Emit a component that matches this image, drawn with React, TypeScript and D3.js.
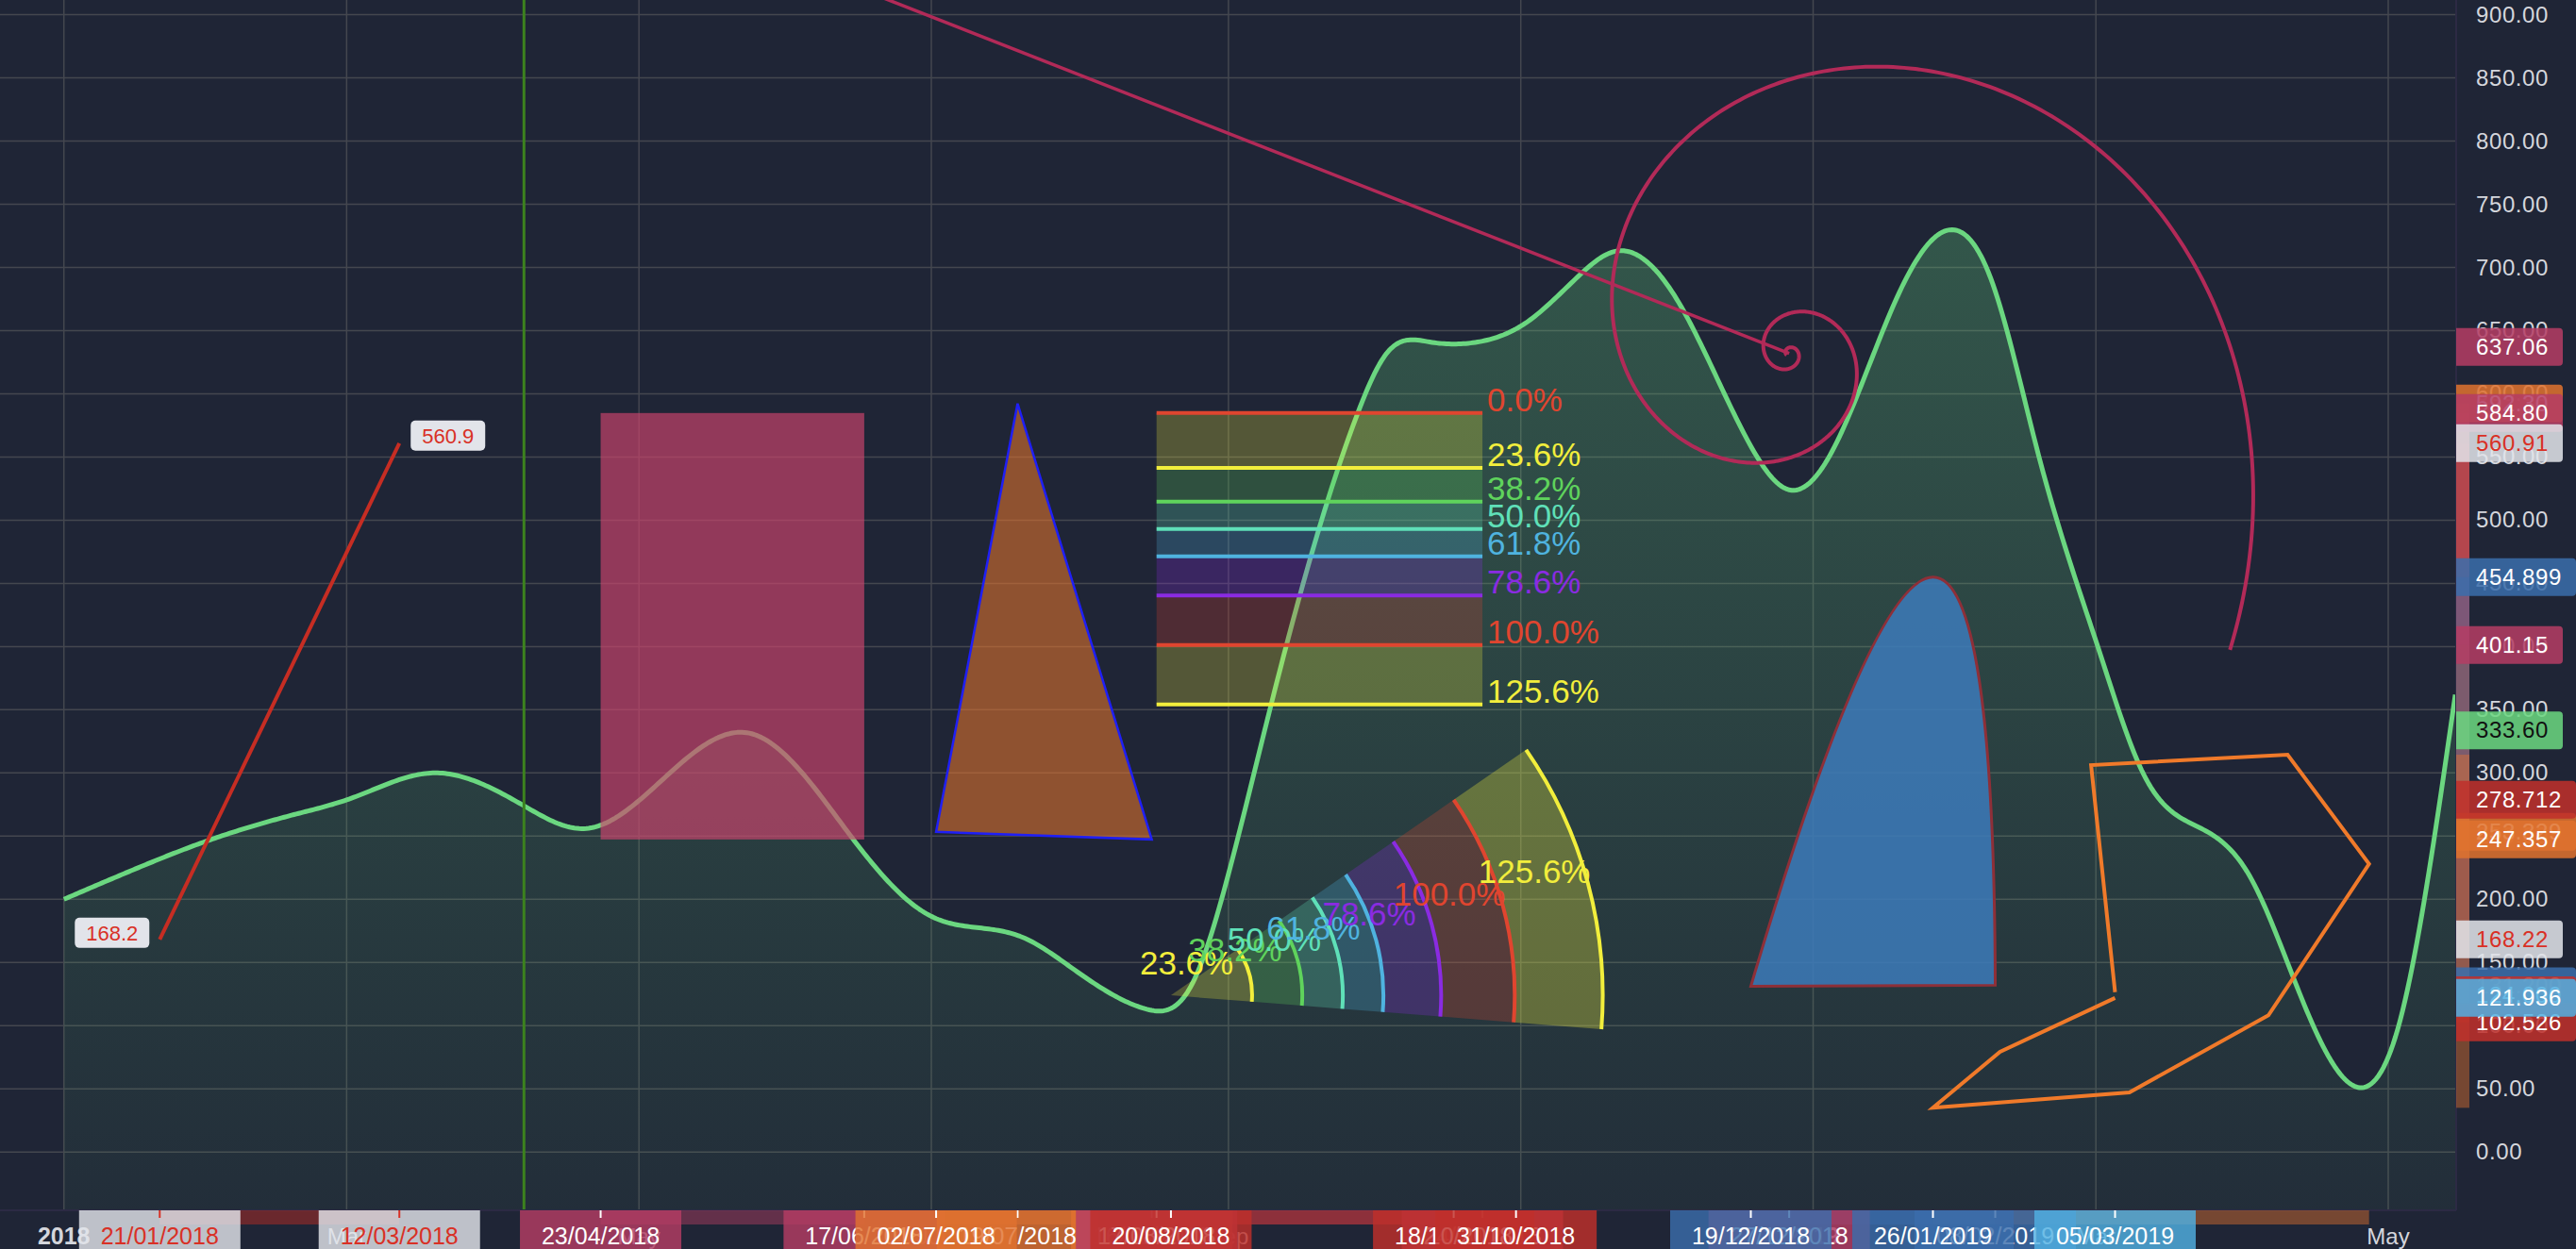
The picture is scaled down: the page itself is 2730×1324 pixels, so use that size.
import React from 'react';
import * as d3 from 'd3';

const WIDTH = 2730;
const HEIGHT = 1324;
const PLOT_RIGHT = 2603;
const PLOT_BOTTOM = 1283;
const BG = '#1f2536';
const FONT = '"Liberation Sans", Arial, sans-serif';

// ---------- scales domains ----------
const timeDomain = ['2018-01-01', '2019-05-01'];
const priceDomain = [0, 900];

// ---------- area series ----------
const seriesDates = [
  '2018-01-01', '2018-01-14', '2018-01-30', '2018-02-18', '2018-03-02', '2018-03-19', '2018-04-07',
  '2018-04-20', '2018-05-24', '2018-06-15', '2018-07-01', '2018-07-13', '2018-07-20', '2018-07-30',
  '2018-08-15', '2018-08-24', '2018-09-01', '2018-09-10', '2018-09-28', '2018-10-04', '2018-10-13',
  '2018-10-23', '2018-11-02', '2018-11-13', '2018-11-21', '2018-12-04', '2018-12-19', '2018-12-27',
  '2019-01-04', '2019-01-18', '2019-01-28', '2019-02-07', '2019-02-17', '2019-03-02', '2019-03-11',
  '2019-03-23', '2019-04-02', '2019-04-11', '2019-04-24', '2019-05-03', '2019-05-15',
];
const seriesValues = [
  200, 221, 245, 267, 280, 300, 274,
  256, 331.5, 246, 186.5, 176.5, 170, 146.5,
  113, 130, 220, 355.5, 585, 632, 641,
  641, 656, 693, 713, 672, 558.6, 524,
  548, 672, 728, 692, 552, 393, 298.6,
  256, 219, 140, 52, 97.5, 362,
];
const lastPrice = 333.6;

// ---------- drawings ----------
const trendDates = ['2018-01-21', '2018-03-12'];
const trendPrices = [168.22, 560.91];
const vlineDate = '2018-04-07';
const rectDates = ['2018-04-23', '2018-06-17'];
const rectPrices = [584.8, 247.357];
const triDates = ['2018-07-02', '2018-07-19', '2018-08-16'];
const triPrices = [253.329, 592.3, 247.357];
const fibRetDates = ['2018-08-17', '2018-10-24'];
const fibRetPrices = [401.15, 584.8]; // 100% , 0%
const fibLevels = [0, 0.236, 0.382, 0.5, 0.618, 0.786, 1, 1.256];
const fibColors = ['#e0452f', '#f2ee3c', '#5fd35c', '#5fe0b8', '#4fb3df', '#8a2be2', '#e0452f', '#f2ee3c'];
const wedgeDates = ['2018-08-20', '2018-10-18', '2018-10-31'];
const wedgePrices = [124, 278.712, 102.526];
const wedgeLevels = [0.236, 0.382, 0.5, 0.618, 0.786, 1, 1.256];
const wedgeColors = ['#f2ee3c', '#5fd35c', '#5fe0b8', '#4fb3df', '#8a2be2', '#e0452f', '#f2ee3c'];
const spiralDates = ['2018-06-01', '2018-12-27'];
const spiralPrices = [943, 632];
const curveDates = ['2018-12-19', '2019-01-26', '2019-02-08'];
const curvePrices = [131.2, 454.899, 132.0];
const polyDates = ['2019-03-05', '2019-02-28', '2019-04-10', '2019-04-27', '2019-04-06', '2019-03-08', '2019-01-26', '2019-02-09', '2019-03-05'];
const polyPrices = [126.5, 306.2, 314.4, 227.9, 108.2, 47.2, 35.0, 79.3, 121.936];

// ---------- colours ----------
const C_TREND = '#c62d23';
const C_PINK = '#b53d64';
const C_ORANGE = '#e0722f';
const C_RED = '#c0302b';
const C_BLUE = '#3a6dab';
const C_LBLUE = '#50b0e2';
const C_GREEN = '#6bd780';
const C_WHITE = '#e2e4ea';
const C_REDTEXT = '#d93025';

// ---------- axis label lists ----------
const priceLabelValues = [592.3, 253.329, 247.357, 584.8, 401.15, 637.06, 168.22, 560.91, 454.899, 131.2, 278.712, 124, 102.526, 121.936, lastPrice];
const priceLabelTexts = ['592.30', '253.329', '247.357', '584.80', '401.15', '637.06', '168.22', '560.91', '454.899', '131.200', '278.712', '124.000', '102.526', '121.936', '333.60'];
const priceLabelFills = [C_ORANGE, C_ORANGE, C_ORANGE, C_PINK, C_PINK, C_PINK, C_WHITE, C_WHITE, C_BLUE, C_BLUE, C_RED, C_RED, C_RED, C_LBLUE, C_GREEN];
const priceLabelInk = ['#fff', '#fff', '#fff', '#fff', '#fff', '#fff', C_REDTEXT, C_REDTEXT, '#fff', '#fff', '#fff', '#fff', '#fff', '#fff', '#111'];

const timeLabelDates = [
  '2018-01-21', '2018-03-12', '2018-04-23', '2018-06-17', '2018-08-16', '2018-07-19', '2018-07-02',
  '2018-08-17', '2018-10-24', '2018-08-20', '2018-10-18', '2018-10-31', '2018-12-27',
  '2018-12-19', '2019-02-08', '2019-01-26', '2019-03-05',
];
const timeLabelFills = [
  C_WHITE, C_WHITE, C_PINK, C_PINK, C_ORANGE, C_ORANGE, C_ORANGE,
  C_PINK, C_PINK, C_RED, C_RED, C_RED, C_PINK,
  C_BLUE, C_BLUE, C_BLUE, C_LBLUE,
];

// price / time ranges for the axis highlight strips
const rangeColors = [C_TREND, C_PINK, C_ORANGE, C_PINK, C_RED, C_BLUE, C_ORANGE];
const rangeDateSets = [trendDates, rectDates, triDates, fibRetDates, wedgeDates, curveDates, polyDates];
const rangePriceSets = [trendPrices, rectPrices, triPrices, fibRetPrices, wedgePrices, curvePrices, polyPrices];

const parse = d3.utcParse('%Y-%m-%d');
const x = d3.scaleUtc().domain(timeDomain.map((d) => parse(d) as Date)).range([67.7, 2531]);
const y = d3.scaleLinear().domain(priceDomain).range([1221.2, 15.6]);
const X = (s: string) => x(parse(s) as Date);
const fmtDate = d3.utcFormat('%d/%m/%Y');
const fmt1 = d3.format('.1f');
const DAY = 86400000;

// natural cubic spline over time (used only to draw the smooth "curved" series line)
function naturalSpline(xs: number[], ys: number[]) {
  const n = xs.length;
  const h: number[] = [];
  for (let i = 0; i < n - 1; i++) h.push(xs[i + 1] - xs[i]);
  const M = new Array(n).fill(0);
  const a = new Array(n).fill(0), b = new Array(n).fill(1), c = new Array(n).fill(0), r = new Array(n).fill(0);
  for (let i = 1; i < n - 1; i++) {
    a[i] = h[i - 1];
    b[i] = 2 * (h[i - 1] + h[i]);
    c[i] = h[i];
    r[i] = 6 * ((ys[i + 1] - ys[i]) / h[i] - (ys[i] - ys[i - 1]) / h[i - 1]);
  }
  for (let i = 1; i < n; i++) {
    const m = a[i] / b[i - 1];
    b[i] -= m * c[i - 1];
    r[i] -= m * r[i - 1];
  }
  M[n - 1] = r[n - 1] / b[n - 1];
  for (let i = n - 2; i >= 0; i--) M[i] = (r[i] - c[i] * M[i + 1]) / b[i];
  return (xv: number) => {
    let i = d3.bisectRight(xs, xv) - 1;
    i = Math.max(0, Math.min(n - 2, i));
    const hi = h[i];
    const A = xs[i + 1] - xv, B = xv - xs[i];
    return (M[i] * A * A * A + M[i + 1] * B * B * B) / (6 * hi) + (ys[i] / hi - (M[i] * hi) / 6) * A + (ys[i + 1] / hi - (M[i + 1] * hi) / 6) * B;
  };
}

function rightRounded(x0: number, y0: number, w: number, h: number, r: number) {
  const p = d3.path();
  p.moveTo(x0, y0);
  p.lineTo(x0 + w - r, y0);
  p.arcTo(x0 + w, y0, x0 + w, y0 + r, r);
  p.lineTo(x0 + w, y0 + h - r);
  p.arcTo(x0 + w, y0 + h, x0 + w - r, y0 + h, r);
  p.lineTo(x0, y0 + h);
  p.closePath();
  return p.toString();
}

export default function App() {
  const t0ms = +(parse(seriesDates[0]) as Date);
  const days = seriesDates.map((d) => (+(parse(d) as Date) - t0ms) / DAY);
  const spline = naturalSpline(days, seriesValues);
  const lastDay = days[days.length - 1];
  const smooth = d3.range(0, lastDay + 0.01, 0.5).map((dd) => ({ t: new Date(t0ms + dd * DAY), v: spline(dd) }));
  const lineGen = d3.line<any>().x((d) => x(d.t)).y((d) => y(d.v));
  const areaGen = d3.area<any>().x((d) => x(d.t)).y0(PLOT_BOTTOM).y1((d) => y(d.v));

  const yTicks = y.ticks(20);
  const xTicks = x.ticks(d3.utcMonth.every(2) as any);

  // trend
  const t0 = [X(trendDates[0]), y(trendPrices[0])];
  const t1 = [X(trendDates[1]), y(trendPrices[1])];

  // rect
  const rx0 = X(rectDates[0]), rx1 = X(rectDates[1]);
  const ry0 = y(rectPrices[0]), ry1 = y(rectPrices[1]);

  // triangle
  const triPts = triDates.map((d, i) => [X(d), y(triPrices[i])]);

  // fib retracement
  const fx0 = X(fibRetDates[0]), fx1 = X(fibRetDates[1]);
  const p100 = fibRetPrices[0], p0 = fibRetPrices[1];
  const fibY = fibLevels.map((l) => y(p0 + (p100 - p0) * l));

  // fib wedge
  const ax = X(wedgeDates[0]), ay = y(wedgePrices[0]);
  const bx = X(wedgeDates[1]), by = y(wedgePrices[1]);
  const cx = X(wedgeDates[2]), cy = y(wedgePrices[2]);
  const R = Math.hypot(bx - ax, by - ay);
  const thU = Math.atan2(by - ay, bx - ax);
  const thL = Math.atan2(cy - ay, cx - ax);
  const thMid = (thU + thL) / 2;
  const wedgeR = wedgeLevels.map((l) => l * R);

  // spiral
  const s1x = X(spiralDates[0]), s1y = y(spiralPrices[0]);
  const s2x = X(spiralDates[1]), s2y = y(spiralPrices[1]);
  const sd = Math.hypot(s1x - s2x, s1y - s2y);
  let alpha = (Math.atan2(s1y - s2y, s1x - s2x) * 180) / Math.PI;
  if (alpha < 0) alpha += 360;
  const phi = (1 + Math.sqrt(5)) / 2;
  const th0 = alpha + 324.5;
  const spiralPts: [number, number][] = [];
  for (let th = th0 - 1100; th <= alpha + 193.3; th += 1) {
    const r = sd * Math.pow(phi, (th - th0) / 90);
    const a = (th * Math.PI) / 180;
    spiralPts.push([s2x + r * Math.cos(a), s2y + r * Math.sin(a)]);
  }
  const spiralPath = d3.line()(spiralPts) as string;

  // blue curve
  const cp = curveDates.map((d, i) => [X(d), y(curvePrices[i])]);
  const ctrl = [2 * cp[1][0] - (cp[0][0] + cp[2][0]) / 2, 2 * cp[1][1] - (cp[0][1] + cp[2][1]) / 2];
  const bp = d3.path();
  bp.moveTo(cp[0][0], cp[0][1]);
  bp.quadraticCurveTo(ctrl[0], ctrl[1], cp[2][0], cp[2][1]);
  bp.closePath();

  // polyline
  const polyPts = polyDates.map((d, i) => [X(d), y(polyPrices[i])] as [number, number]);

  return (
    <svg width={WIDTH} height={HEIGHT} style={{ position: 'absolute', left: 0, top: 0, display: 'block' }} fontFamily={FONT}>
      <defs>
        <clipPath id="plot">
          <rect x={0} y={0} width={PLOT_RIGHT} height={PLOT_BOTTOM} />
        </clipPath>
        <linearGradient id="areaGrad" gradientUnits="userSpaceOnUse" x1={0} y1={0} x2={0} y2={PLOT_BOTTOM}>
          <stop offset="0" stopColor="#64d27d" stopOpacity={0.34} />
          <stop offset="1" stopColor="#64d27d" stopOpacity={0.05} />
        </linearGradient>
      </defs>
      <rect x={0} y={0} width={WIDTH} height={HEIGHT} fill={BG} />

      <g clipPath="url(#plot)">
        {/* grid */}
        {yTicks.map((v) => (
          <line key={'gy' + v} x1={0} x2={PLOT_RIGHT} y1={y(v)} y2={y(v)} stroke="#44474f" strokeWidth={1.5} />
        ))}
        {xTicks.map((t) => (
          <line key={'gx' + +t} x1={x(t)} x2={x(t)} y1={0} y2={PLOT_BOTTOM} stroke="#44474f" strokeWidth={1.5} />
        ))}

        {/* area series */}
        <path d={areaGen(smooth) as string} fill="url(#areaGrad)" />
        <path d={lineGen(smooth) as string} fill="none" stroke={C_GREEN} strokeWidth={5} strokeLinejoin="round" />

        {/* trend line */}
        <line x1={t0[0]} y1={t0[1]} x2={t1[0]} y2={t1[1]} stroke={C_TREND} strokeWidth={4} />

        {/* vertical line */}
        <line x1={X(vlineDate)} x2={X(vlineDate)} y1={0} y2={PLOT_BOTTOM} stroke="#3c821e" strokeWidth={3} />

        {/* rectangle */}
        <rect x={rx0} y={Math.min(ry0, ry1)} width={rx1 - rx0} height={Math.abs(ry1 - ry0)} fill="rgba(207,69,110,0.66)" />

        {/* triangle */}
        <polygon points={triPts.map((p) => p.join(',')).join(' ')} fill="rgba(232,118,44,0.56)" stroke="#1f1ff5" strokeWidth={2.5} />

        {/* fib retracement */}
        {fibLevels.slice(1).map((l, i) => (
          <rect key={'fb' + l} x={fx0} y={fibY[i]} width={fx1 - fx0} height={fibY[i + 1] - fibY[i]} fill={fibColors[i + 1]} fillOpacity={0.25} />
        ))}
        {fibLevels.map((l, i) => (
          <line key={'fl' + l} x1={fx0} x2={fx1} y1={fibY[i]} y2={fibY[i]} stroke={fibColors[i]} strokeWidth={4} />
        ))}
        {fibLevels.map((l, i) => (
          <text key={'ft' + l} x={fx1 + 5} y={fibY[i] - 2} fill={fibColors[i]} fontSize={35}>
            {(l * 100).toFixed(1) + '%'}
          </text>
        ))}

        {/* fib wedge */}
        {wedgeR.map((r, i) => {
          const a = d3.arc()({
            innerRadius: i === 0 ? 0 : wedgeR[i - 1],
            outerRadius: r,
            startAngle: thU + Math.PI / 2,
            endAngle: thL + Math.PI / 2,
          } as any) as string;
          return <path key={'wb' + i} d={a} transform={`translate(${ax},${ay})`} fill={wedgeColors[i]} fillOpacity={i === wedgeR.length - 1 ? 0.3 : 0.26} />;
        })}
        {wedgeR.map((r, i) => {
          const p = d3.path();
          p.arc(ax, ay, r, thU, thL);
          return <path key={'wa' + i} d={p.toString()} fill="none" stroke={wedgeColors[i]} strokeWidth={4} />;
        })}
        {wedgeR.map((r, i) => (
          <text key={'wt' + i} x={ax + r * Math.cos(thMid) - 116} y={ay + r * Math.sin(thMid)} textAnchor="start" fill={wedgeColors[i]} fontSize={35}>
            {(wedgeLevels[i] * 100).toFixed(1) + '%'}
          </text>
        ))}

        {/* fib spiral */}
        <line x1={s1x} y1={s1y} x2={s2x} y2={s2y} stroke="#b22a58" strokeWidth={3.5} />
        <path d={spiralPath} fill="none" stroke="#b22a58" strokeWidth={4} />

        {/* blue curve */}
        <path d={bp.toString()} fill="rgba(60,122,185,0.86)" stroke="#8e2f38" strokeWidth={3} />

        {/* polyline */}
        <path d={d3.line()(polyPts) as string} fill="none" stroke="#f07a2a" strokeWidth={4} strokeLinejoin="miter" />

        {/* trend labels */}
        <rect x={t0[0] - 11 - 79} y={t0[1] - 7 - 16} width={79} height={32} rx={5} fill={C_WHITE} />
        <text x={t0[0] - 11 - 39.5} y={t0[1] - 7 + 8} textAnchor="middle" fill={C_REDTEXT} fontSize={22}>
          {fmt1(trendPrices[0])}
        </text>
        <rect x={t1[0] + 12} y={t1[1] - 8 - 16} width={79} height={32} rx={5} fill={C_WHITE} />
        <text x={t1[0] + 12 + 39.5} y={t1[1] - 8 + 8} textAnchor="middle" fill={C_REDTEXT} fontSize={22}>
          {fmt1(trendPrices[1])}
        </text>
      </g>

      {/* separators */}
      <line x1={0} x2={PLOT_RIGHT} y1={PLOT_BOTTOM} y2={PLOT_BOTTOM} stroke="#2c2a44" strokeWidth={2} />
      <line x1={PLOT_RIGHT} x2={PLOT_RIGHT} y1={0} y2={PLOT_BOTTOM} stroke="#2c2a44" strokeWidth={2} />

      {/* price axis ticks */}
      {yTicks.map((v) => (
        <text key={'py' + v} x={2624} y={y(v) + 8} fill="#d4d6dc" fontSize={24} letterSpacing={0.6}>
          {v.toFixed(2)}
        </text>
      ))}

      {/* price axis range strips */}
      {rangePriceSets.map((ps, i) => {
        const y0 = y(d3.max(ps) as number), y1 = y(d3.min(ps) as number);
        return <rect key={'pr' + i} x={PLOT_RIGHT} y={y0} width={14} height={y1 - y0} fill={rangeColors[i]} fillOpacity={0.45} />;
      })}

      {/* price axis labels */}
      {priceLabelValues.map((v, i) => {
        const yc = y(v);
        const w = priceLabelTexts[i].length <= 6 ? 113 : 127;
        return (
          <g key={'pl' + i}>
            <path d={rightRounded(PLOT_RIGHT, yc - 20, w, 40, 4)} fill={priceLabelFills[i]} fillOpacity={0.86} />
            <text x={2624} y={yc + 8} fill={priceLabelInk[i]} fontSize={24} letterSpacing={0.6}>
              {priceLabelTexts[i]}
            </text>
          </g>
        );
      })}

      {/* time axis ticks */}
      {xTicks.map((t) => {
        const isYear = t.getUTCMonth() === 0;
        return (
          <text key={'tx' + +t} x={x(t)} y={1319} textAnchor="middle" fill="#d4d6dc" fontSize={isYear ? 25 : 24} fontWeight={isYear ? 'bold' : 'normal'}>
            {isYear ? d3.utcFormat('%Y')(t) : d3.utcFormat('%b')(t)}
          </text>
        );
      })}

      {/* time axis range strips */}
      {rangeDateSets.map((ds, i) => {
        const xs = ds.map(X);
        const x0 = d3.min(xs) as number, x1 = d3.max(xs) as number;
        return <rect key={'tr' + i} x={x0} y={PLOT_BOTTOM} width={x1 - x0} height={15} fill={rangeColors[i]} fillOpacity={0.45} />;
      })}

      {/* time axis labels */}
      {timeLabelDates.map((d, i) => {
        const xc = X(d);
        const white = timeLabelFills[i] === C_WHITE;
        return (
          <g key={'tl' + i}>
            <rect x={xc - 85.5} y={PLOT_BOTTOM} width={171} height={HEIGHT - PLOT_BOTTOM} fill={timeLabelFills[i]} fillOpacity={0.82} />
            <line x1={xc} x2={xc} y1={PLOT_BOTTOM} y2={PLOT_BOTTOM + 8} stroke={white ? C_REDTEXT : '#ffffff'} strokeWidth={2} />
            <text x={xc} y={1319} textAnchor="middle" fill={white ? C_REDTEXT : '#ffffff'} fontSize={25}>
              {fmtDate(parse(d) as Date)}
            </text>
          </g>
        );
      })}
    </svg>
  );
}
